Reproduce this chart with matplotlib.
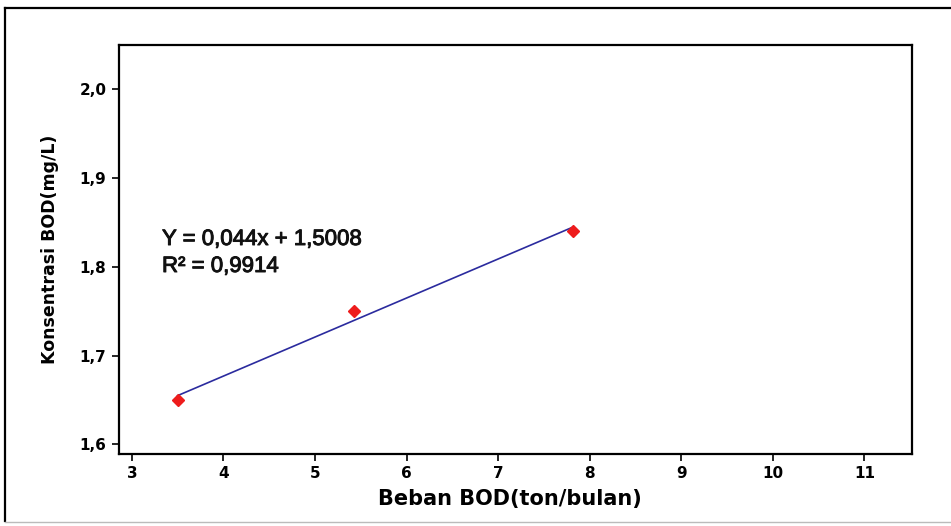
import matplotlib
matplotlib.use("Agg")
import matplotlib.pyplot as plt
import matplotlib.patheffects as pe
import numpy as np
from matplotlib.lines import Line2D

# Data
beban_bod = [3.5, 5.43, 7.82]
konsentrasi_bod = [1.65, 1.75, 1.84]
slope = 0.044
intercept = 1.5008
r2_text = "0,9914"
x_ticks = [3, 4, 5, 6, 7, 8, 9, 10, 11]
y_ticks = [1.6, 1.7, 1.8, 1.9, 2.0]
y_tick_labels = ["1,6", "1,7", "1,8", "1,9", "2,0"]

W, H = 951, 526
fig = plt.figure(figsize=(W/100, H/100), dpi=100)
fig.patch.set_facecolor("white")

def fx(px):
    return px / W

def fy(py):
    return 1 - py / H

# outer frame lines
fig.add_artist(Line2D([fx(5), fx(5)], [fy(8), fy(521)], color="black", lw=1.6, transform=fig.transFigure))
fig.add_artist(Line2D([fx(5), 1.0], [fy(8), fy(8)], color="black", lw=1.6, transform=fig.transFigure))
fig.add_artist(Line2D([fx(5), 1.0], [fy(522), fy(522)], color="#bbbbbb", lw=1.0, transform=fig.transFigure))

ax = fig.add_axes([fx(119), fy(454), (912-119)/W, (454-45)/H])
ax.set_xlim(2.86, 11.52)
ax.set_ylim(1.589, 2.05)

# regression line
xl = np.array([beban_bod[0], beban_bod[-1]])
ax.plot(xl, slope*xl + intercept, color="#2b2b9e", lw=1.2, zorder=2)
ax.plot(beban_bod, konsentrasi_bod, linestyle="none", marker="D", markersize=6,
        color="#ee1c1c", markeredgecolor="#ee1c1c", zorder=3)

thick = [pe.withStroke(linewidth=0.7, foreground="#111111")]
fig.text(fx(162), fy(245), "Y = 0,044x + 1,5008", fontsize=16, fontweight="normal",
         family="Liberation Sans", va="baseline", ha="left", color="#111111",
         path_effects=thick)
fig.text(fx(162), fy(272), "R\u00b2 = " + r2_text, fontsize=16, fontweight="normal",
         family="Liberation Sans", va="baseline", ha="left", color="#111111",
         path_effects=thick)

ax.set_xticks(x_ticks)
ax.set_xticklabels([str(v) for v in x_ticks], fontweight="bold", fontsize=11)
ax.set_yticks(y_ticks)
ax.set_yticklabels(y_tick_labels, fontweight="bold", fontsize=11)
ax.tick_params(direction="out", length=5, width=1.2, pad=4)

for s in ax.spines.values():
    s.set_linewidth(1.6)
    s.set_color("black")

fig.text(fx(510), fy(505), "Beban BOD(ton/bulan)", fontweight="bold", fontsize=15,
         ha="center", va="baseline")
fig.text(fx(50), fy(249), "Konsentrasi BOD(mg/L)", fontweight="bold", fontsize=12.5,
         ha="center", va="center", rotation=90)

fig.savefig("out.png", dpi=100)
